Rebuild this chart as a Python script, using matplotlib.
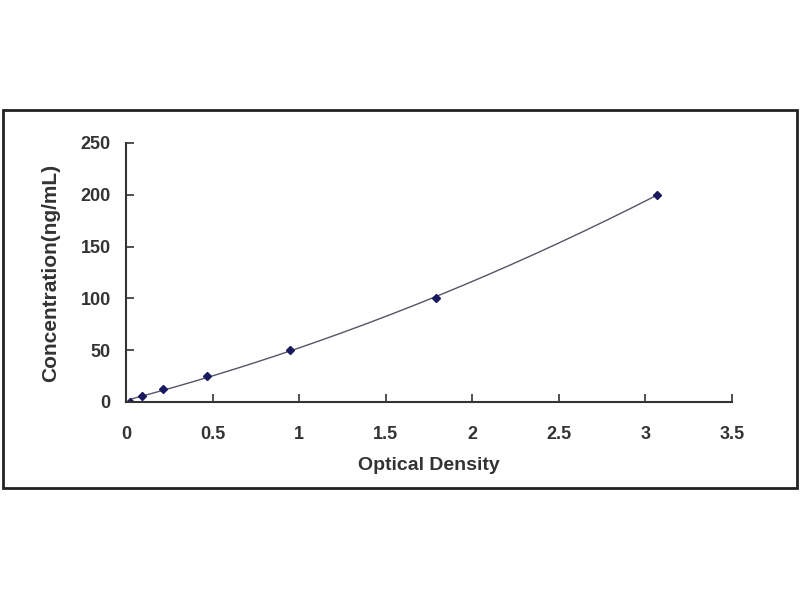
import numpy as np
import matplotlib
matplotlib.use("Agg")
import matplotlib.pyplot as plt
from matplotlib.patches import Rectangle

# standard curve points
od = [0.023, 0.095, 0.215, 0.466, 0.947, 1.79, 3.065]
conc = [0, 6.25, 12.5, 25, 50, 100, 200]

xticks = [0, 0.5, 1, 1.5, 2, 2.5, 3, 3.5]
xticklabels = ["0", "0.5", "1", "1.5", "2", "2.5", "3", "3.5"]
yticks = [0, 50, 100, 150, 200, 250]

plt.rcParams['font.family'] = ['Liberation Sans', 'DejaVu Sans']

fig = plt.figure(figsize=(8, 6), dpi=100)
ax = fig.add_axes([0.1575, 0.33, 0.7575, 0.4317])

# outer frame
fig.patches.append(Rectangle((3 / 800, 1 - 488 / 600), 794 / 800, 378 / 600,
                             transform=fig.transFigure, fill=False,
                             edgecolor="#222222", linewidth=2))

# trend line (quadratic fit of the points)
coef = np.polyfit(od, conc, 2)
xs = np.linspace(min(od), max(od), 200)
ax.plot(xs, np.polyval(coef, xs), color="#555566", linewidth=1)
ax.plot(od, conc, linestyle="none", marker="D", markersize=4, color="#1a1a5e")

ax.set_xlim(0, 3.5)
ax.set_ylim(0, 250)
ax.set_xticks(xticks)
ax.set_xticklabels(xticklabels)
ax.set_yticks(yticks)
for s in ["top", "right"]:
    ax.spines[s].set_visible(False)
for s in ["left", "bottom"]:
    ax.spines[s].set_linewidth(1.5)
    ax.spines[s].set_color("#333333")
ax.tick_params(direction="in", length=6, width=1.2, colors="#333333",
               labelsize=13)
ax.tick_params(axis="x", pad=17)
ax.tick_params(axis="y", pad=11)
for lab in ax.get_xticklabels() + ax.get_yticklabels():
    lab.set_fontweight("bold")
    lab.set_color("#333333")

ax.set_xlabel("Optical Density", fontsize=14, fontweight="bold", color="#333333", labelpad=10)
ax.set_ylabel("Concentration(ng/mL)", fontsize=15, fontweight="bold", color="#333333", labelpad=15)

fig.savefig("out.png", dpi=100)
